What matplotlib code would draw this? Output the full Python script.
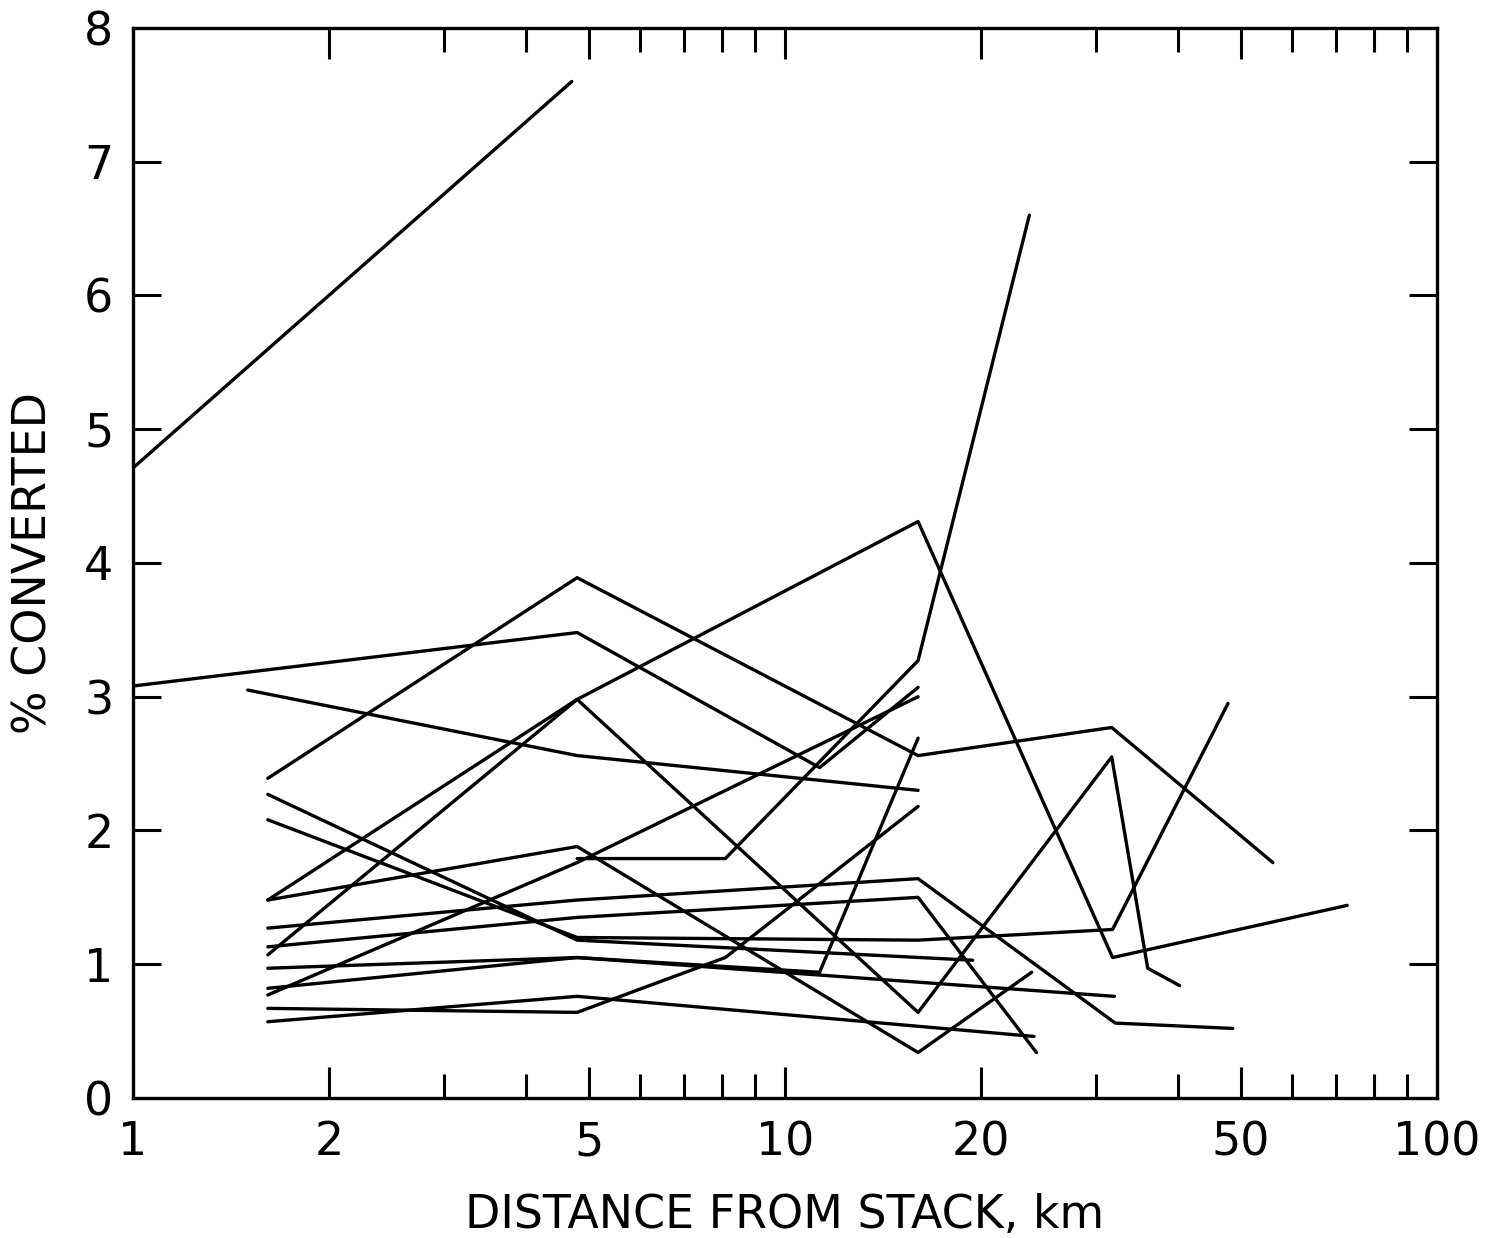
import matplotlib
matplotlib.use("Agg")
import matplotlib.pyplot as plt
from matplotlib.ticker import NullFormatter

# distance from stack (km) and % converted, one pair of lists per traverse
a_x = [1.0, 4.71]
a_y = [4.71, 7.60]
b_x = [1.0, 4.8, 11.3, 16.0]
b_y = [3.08, 3.48, 2.47, 3.07]
c_x = [1.5, 4.8, 16.0]
c_y = [3.05, 2.56, 2.30]
d_x = [1.61, 4.8, 16.0, 31.7, 56.0]
d_y = [2.39, 3.89, 2.56, 2.77, 1.76]
e_x = [1.61, 4.8, 16.0, 31.8, 47.8]
e_y = [2.08, 1.20, 1.18, 1.26, 2.95]
f_x = [1.61, 4.8, 16.0, 23.9]
f_y = [1.48, 1.88, 0.34, 0.94]
g_x = [1.61, 4.8, 16.0, 31.7, 36.0, 40.3]
g_y = [1.07, 2.98, 0.64, 2.55, 0.97, 0.84]
h_x = [1.61, 4.8, 16.0, 31.8, 72.8]
h_y = [1.48, 2.98, 4.31, 1.05, 1.44]
i_x = [1.61, 4.8, 16.0, 32.1, 48.6]
i_y = [1.27, 1.48, 1.64, 0.56, 0.52]
j_x = [1.61, 4.8, 16.0, 24.3]
j_y = [1.13, 1.35, 1.50, 0.34]
k_x = [1.61, 4.8, 11.3, 16.0]
k_y = [0.97, 1.05, 0.94, 2.69]
l_x = [1.61, 4.8, 8.1, 16.0]
l_y = [0.67, 0.64, 1.05, 2.18]
m_x = [4.8, 8.1, 16.0, 23.7]
m_y = [1.79, 1.79, 3.27, 6.60]
n_x = [1.61, 4.8, 16.0]
n_y = [0.77, 1.76, 3.00]
p_x = [1.61, 4.8, 19.4]
p_y = [2.27, 1.18, 1.03]
q_x = [1.61, 4.8, 32.0]
q_y = [0.82, 1.05, 0.76]
r_x = [1.61, 4.8, 24.1]
r_y = [0.57, 0.76, 0.46]

series = [(a_x, a_y), (b_x, b_y), (c_x, c_y), (d_x, d_y), (e_x, e_y),
          (f_x, f_y), (g_x, g_y), (h_x, h_y), (i_x, i_y), (j_x, j_y),
          (k_x, k_y), (l_x, l_y), (m_x, m_y), (n_x, n_y), (p_x, p_y),
          (q_x, q_y), (r_x, r_y)]

major_x = [1, 2, 5, 10, 20, 50, 100]
major_x_labels = ['1', '2', '5', '10', '20', '50', '100']
minor_x = [3, 4, 6, 7, 8, 9, 30, 40, 60, 70, 80, 90]
y_ticks = list(range(0, 9))

plt.rcParams['font.family'] = ['DejaVu Sans']

fig = plt.figure(figsize=(14.87, 12.38), dpi=100)
ax = fig.add_axes([0.0894, 0.1131, 0.877, 0.8643])

for xs, ys in series:
    ax.plot(xs, ys, color='black', lw=2.4, solid_capstyle='round')

ax.set_xscale('log')
ax.set_xlim(1, 100)
ax.set_ylim(0, 8)

ax.set_xticks(major_x)
ax.set_xticklabels(major_x_labels)
ax.set_xticks(minor_x, minor=True)
ax.xaxis.set_minor_formatter(NullFormatter())
ax.set_yticks(y_ticks)

ax.tick_params(axis='both', which='both', direction='in', top=True, right=True,
               width=2.2, labelsize=33, color='black')
ax.tick_params(axis='x', which='major', length=22, pad=16)
ax.tick_params(axis='x', which='minor', length=17)
ax.tick_params(axis='y', which='major', length=20, pad=14)

for s in ax.spines.values():
    s.set_linewidth(2.4)

ax.set_xlabel('DISTANCE FROM STACK, km', fontsize=33, labelpad=20)
ax.set_ylabel('% CONVERTED', fontsize=33, labelpad=20)

fig.savefig('out.png', dpi=100, facecolor='white')
